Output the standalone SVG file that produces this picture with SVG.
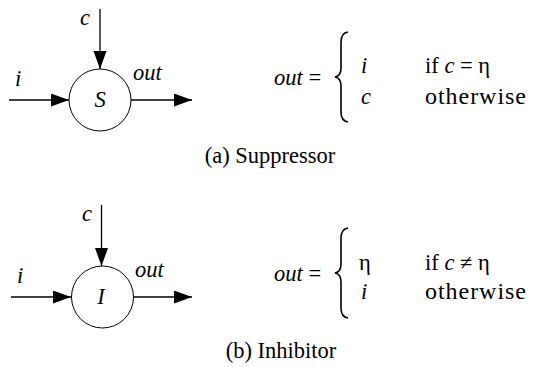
<svg xmlns="http://www.w3.org/2000/svg" width="533" height="367" viewBox="0 0 533 367">
<style>
text{font-family:"Liberation Serif","DejaVu Serif",serif;font-size:22.5px;fill:#000}
.it{font-style:italic}
.ow{font-size:24px}
.ln{stroke:#000;stroke-width:1.3;fill:none}
.nd{stroke:#000;stroke-width:1;fill:#fff}
.br{stroke:#000;stroke-width:1.6;fill:none}
</style>
<defs>
<marker id="ah" markerUnits="userSpaceOnUse" markerWidth="20" markerHeight="14" refX="18" refY="6.5" orient="auto">
<path d="M0,0 L18,6.5 L0,13 Z" fill="#000"/>
</marker>
</defs>
<g id="connectors">
<line class="ln" x1="100" y1="9" x2="100" y2="69" marker-end="url(#ah)"/>
<line class="ln" x1="9" y1="100" x2="69" y2="100" marker-end="url(#ah)"/>
<line class="ln" x1="131" y1="100" x2="192" y2="100" marker-end="url(#ah)"/>
<line class="ln" x1="101.5" y1="205" x2="101.5" y2="266" marker-end="url(#ah)"/>
<line class="ln" x1="11" y1="297" x2="71" y2="297" marker-end="url(#ah)"/>
<line class="ln" x1="134" y1="297" x2="192" y2="297" marker-end="url(#ah)"/>
</g>
<g id="nodeS">
<circle class="nd" cx="100" cy="100" r="31"/>
<text class="it" x="100" y="107" text-anchor="middle">S</text>
</g>
<g id="nodeI">
<circle class="nd" cx="102.5" cy="297" r="31"/>
<text class="it" x="101" y="304" text-anchor="middle">I</text>
</g>
<g id="labels-a">
<text class="it" x="80" y="25">c</text>
<text class="it" x="15" y="86">i</text>
<text class="it" x="133" y="80">out</text>
</g>
<g id="labels-b">
<text class="it" x="82" y="221">c</text>
<text class="it" x="17" y="283">i</text>
<text class="it" x="135" y="277">out</text>
</g>
<g id="equation-a">
<text x="274" y="85"><tspan class="it">out</tspan> =</text>
<path class="br" d="M348,32 Q341,33 341,42 L341,68 Q341,76 335,77 Q341,78 341,86 L341,112 Q341,121 348,122"/>
<text class="it" x="361" y="73">i</text>
<text x="425" y="73">if <tspan class="it">c</tspan> = η</text>
<text class="it" x="361" y="104">c</text>
<text class="ow" x="425" y="104" textLength="101" lengthAdjust="spacing">otherwise</text>
</g>
<g id="equation-b">
<text x="274" y="281"><tspan class="it">out</tspan> =</text>
<path class="br" d="M348,228 Q341,229 341,238 L341,264 Q341,272 335,273 Q341,274 341,282 L341,308 Q341,317 348,318"/>
<text x="359" y="270">η</text>
<text x="425" y="270">if <tspan class="it">c</tspan> ≠ η</text>
<text class="it" x="361" y="299">i</text>
<text class="ow" x="425" y="299" textLength="101" lengthAdjust="spacing">otherwise</text>
</g>
<text x="270" y="163" text-anchor="middle">(a) Suppressor</text>
<text x="281" y="358" text-anchor="middle">(b) Inhibitor</text>
</svg>
